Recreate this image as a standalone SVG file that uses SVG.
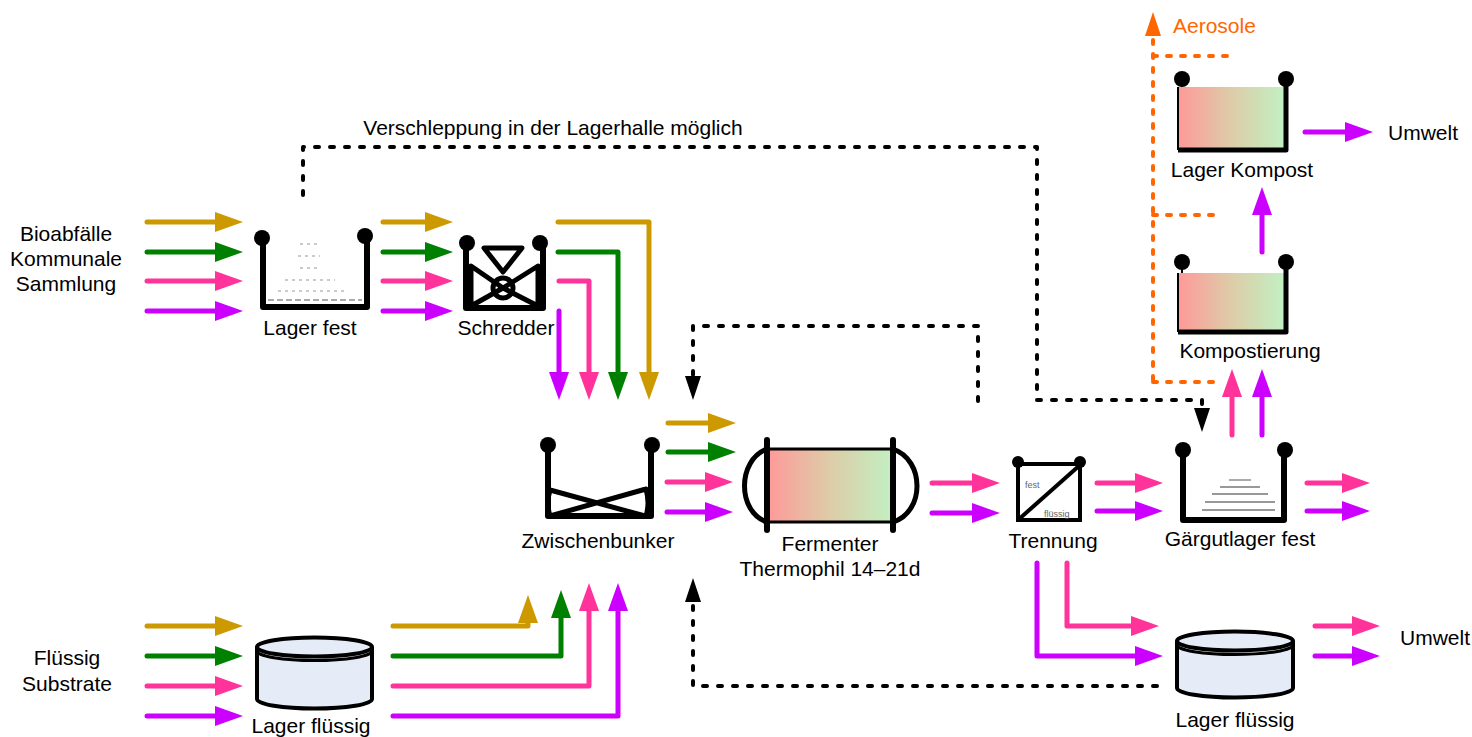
<svg xmlns="http://www.w3.org/2000/svg" width="1472" height="737" viewBox="0 0 1472 737">
<style>
text{font-family:"Liberation Sans",Arial,sans-serif;font-size:21px;fill:#000}
.c{text-anchor:middle}
.flow{fill:none;stroke-width:5;stroke-linecap:round;stroke-linejoin:round}
.gold{stroke:#CC9900}.green{stroke:#008000}.pink{stroke:#FF3399}.purple{stroke:#CC00FF}
.dash{fill:none;stroke:#000;stroke-width:4;stroke-dasharray:4 11;stroke-linecap:round;stroke-linejoin:round}
.odash{fill:none;stroke:#FF6600;stroke-width:4;stroke-dasharray:4 10;stroke-linecap:round}
.tank{fill:none;stroke:#000;stroke-width:6;stroke-linejoin:round;stroke-linecap:round}
.ball{fill:#000}
.heap{stroke:#bbb;stroke-width:1.5;stroke-dasharray:3 4}
.heap2{stroke:#999;stroke-width:2}
.cyl{fill:#E6ECF7;stroke:#000;stroke-width:4}
</style>
<defs>
<marker id="mGold" markerUnits="userSpaceOnUse" markerWidth="28" markerHeight="20" refX="0" refY="10" orient="auto"><path d="M0,0L28,10L0,20z" fill="#CC9900"/></marker>
<marker id="mGreen" markerUnits="userSpaceOnUse" markerWidth="28" markerHeight="20" refX="0" refY="10" orient="auto"><path d="M0,0L28,10L0,20z" fill="#008000"/></marker>
<marker id="mPink" markerUnits="userSpaceOnUse" markerWidth="28" markerHeight="20" refX="0" refY="10" orient="auto"><path d="M0,0L28,10L0,20z" fill="#FF3399"/></marker>
<marker id="mPurple" markerUnits="userSpaceOnUse" markerWidth="28" markerHeight="20" refX="0" refY="10" orient="auto"><path d="M0,0L28,10L0,20z" fill="#CC00FF"/></marker>
<marker id="mBlack" markerUnits="userSpaceOnUse" markerWidth="24" markerHeight="16" refX="0" refY="8" orient="auto"><path d="M0,0L24,8L0,16z" fill="#000"/></marker>
<marker id="mOrange" markerUnits="userSpaceOnUse" markerWidth="24" markerHeight="16" refX="0" refY="8" orient="auto"><path d="M0,0L24,8L0,16z" fill="#FF6600"/></marker>
<linearGradient id="grad" x1="0" y1="0" x2="1" y2="0">
<stop offset="0" stop-color="#FF9999"/><stop offset="0.5" stop-color="#DDCCA8"/><stop offset="1" stop-color="#C2F0C2"/>
</linearGradient>
</defs>
<rect width="1472" height="737" fill="#fff"/>

<g id="connectors">
<!-- Bioabfaelle inputs -->
<path class="flow gold" d="M147,222H215" marker-end="url(#mGold)"/>
<path class="flow green" d="M147,252H215" marker-end="url(#mGreen)"/>
<path class="flow pink" d="M147,281H215" marker-end="url(#mPink)"/>
<path class="flow purple" d="M147,311H215" marker-end="url(#mPurple)"/>
<!-- Lager fest -> Schredder -->
<path class="flow gold" d="M383,222H425" marker-end="url(#mGold)"/>
<path class="flow green" d="M383,252H425" marker-end="url(#mGreen)"/>
<path class="flow pink" d="M383,281H425" marker-end="url(#mPink)"/>
<path class="flow purple" d="M383,311H425" marker-end="url(#mPurple)"/>
<!-- Schredder -> Zwischenbunker -->
<path class="flow gold" d="M558,222H649V372" marker-end="url(#mGold)"/>
<path class="flow green" d="M558,252H618V372" marker-end="url(#mGreen)"/>
<path class="flow pink" d="M559,281H589V372" marker-end="url(#mPink)"/>
<path class="flow purple" d="M559,311V372" marker-end="url(#mPurple)"/>
<!-- Zwischenbunker -> Fermenter -->
<path class="flow gold" d="M668,423H708" marker-end="url(#mGold)"/>
<path class="flow green" d="M668,452H708" marker-end="url(#mGreen)"/>
<path class="flow pink" d="M667,482H705" marker-end="url(#mPink)"/>
<path class="flow purple" d="M667,512H705" marker-end="url(#mPurple)"/>
<!-- Fermenter -> Trennung -->
<path class="flow pink" d="M932,483H972" marker-end="url(#mPink)"/>
<path class="flow purple" d="M932,513H972" marker-end="url(#mPurple)"/>
<!-- Trennung -> Gaergutlager -->
<path class="flow pink" d="M1097,483H1135" marker-end="url(#mPink)"/>
<path class="flow purple" d="M1097,511H1135" marker-end="url(#mPurple)"/>
<!-- Gaergutlager out -->
<path class="flow pink" d="M1307,483H1342" marker-end="url(#mPink)"/>
<path class="flow purple" d="M1307,511H1342" marker-end="url(#mPurple)"/>
<!-- Gaergutlager -> Kompostierung -->
<path class="flow pink" d="M1232,435V397" marker-end="url(#mPink)"/>
<path class="flow purple" d="M1262,435V397" marker-end="url(#mPurple)"/>
<!-- Kompostierung -> Lager Kompost -->
<path class="flow purple" d="M1262,252V215" marker-end="url(#mPurple)"/>
<!-- Lager Kompost -> Umwelt -->
<path class="flow purple" d="M1305,132H1345" marker-end="url(#mPurple)"/>
<!-- Fluessig inputs -->
<path class="flow gold" d="M147,626H215" marker-end="url(#mGold)"/>
<path class="flow green" d="M147,656H215" marker-end="url(#mGreen)"/>
<path class="flow pink" d="M147,686H215" marker-end="url(#mPink)"/>
<path class="flow purple" d="M147,716H215" marker-end="url(#mPurple)"/>
<!-- Lager fluessig -> Zwischenbunker -->
<path class="flow gold" d="M393,626H528V623" marker-end="url(#mGold)"/>
<path class="flow green" d="M393,656H561V618" marker-end="url(#mGreen)"/>
<path class="flow pink" d="M393,686H589V611" marker-end="url(#mPink)"/>
<path class="flow purple" d="M393,716H618V611" marker-end="url(#mPurple)"/>
<!-- Trennung -> Lager fluessig -->
<path class="flow pink" d="M1067,563V626H1131" marker-end="url(#mPink)"/>
<path class="flow purple" d="M1037,563V656H1135" marker-end="url(#mPurple)"/>
<!-- Lager fluessig -> Umwelt -->
<path class="flow pink" d="M1315,626H1352" marker-end="url(#mPink)"/>
<path class="flow purple" d="M1315,656H1352" marker-end="url(#mPurple)"/>
<!-- dashed black -->
<path class="dash" d="M303,195V147H1037V400H1202V408" marker-end="url(#mBlack)"/>
<path class="dash" d="M978,401V326H693V376" marker-end="url(#mBlack)"/>
<path class="dash" d="M1157,686H693V602" marker-end="url(#mBlack)"/>
<!-- orange dashed -->
<path class="odash" d="M1153,380V36" marker-end="url(#mOrange)"/>
<path class="odash" d="M1153,56H1237"/>
<path class="odash" d="M1153,215H1215"/>
<path class="odash" d="M1153,382H1215"/>
</g>

<g id="labels">
<text class="c" x="66" y="241">Bioabfälle</text>
<text class="c" x="66" y="266">Kommunale</text>
<text class="c" x="66" y="291">Sammlung</text>
<text class="c" x="67" y="665">Flüssig</text>
<text class="c" x="67" y="691">Substrate</text>
<text class="c" x="553" y="135">Verschleppung in der Lagerhalle möglich</text>
<text x="1173" y="33" style="fill:#FF6600">Aerosole</text>
<text x="1388" y="140">Umwelt</text>
<text x="1400" y="645">Umwelt</text>
</g>

<g id="lager-fest">
<line class="heap" x1="300" y1="244" x2="320" y2="244"/>
<line class="heap" x1="298" y1="256" x2="320" y2="256"/>
<line class="heap" x1="300" y1="268" x2="320" y2="268"/>
<line class="heap" x1="285" y1="280" x2="335" y2="280"/>
<line class="heap" x1="278" y1="291" x2="345" y2="291"/>
<line class="heap2" x1="268" y1="300" x2="362" y2="300" style="stroke-dasharray:6 3;stroke:#aaa"/>
<path class="tank" d="M263,238V307H367V236"/>
<circle class="ball" cx="262" cy="238" r="8"/>
<circle class="ball" cx="365" cy="236" r="8"/>
<text class="c" x="310" y="335">Lager fest</text>
</g>

<g id="schredder">
<path class="tank" d="M466,243V308H543V243"/>
<path d="M484,248H522L503,272Z" fill="none" stroke="#000" stroke-width="5" stroke-linejoin="round"/>
<path d="M471,266L503,288L471,306Z M538,266L503,288L538,306Z" fill="none" stroke="#000" stroke-width="5" stroke-linejoin="round"/>
<circle cx="503" cy="288" r="10" fill="none" stroke="#000" stroke-width="5"/>
<circle class="ball" cx="467" cy="243" r="8"/>
<circle class="ball" cx="540" cy="243" r="8"/>
<text class="c" x="506" y="335">Schredder</text>
</g>

<g id="zwischenbunker">
<path class="tank" d="M548,445V516H651V445"/>
<path d="M550,490L645,516M646,489L550,516M550,490Q546,503 550,516M646,489Q650,503 646,516" fill="none" stroke="#000" stroke-width="5" stroke-linecap="round"/>
<circle class="ball" cx="548" cy="445" r="8"/>
<circle class="ball" cx="652" cy="445" r="8"/>
<text class="c" x="598" y="548">Zwischenbunker</text>
</g>

<g id="fermenter">
<rect x="767" y="449" width="126" height="73" fill="url(#grad)" stroke="#000" stroke-width="3"/>
<path d="M767,449C737,460 737,512 767,522M893,449C925,460 925,512 893,522" fill="none" stroke="#000" stroke-width="5"/>
<path d="M767,440V530M893,440V530" stroke="#000" stroke-width="6" stroke-linecap="round"/>
<text class="c" x="830" y="551">Fermenter</text>
<text class="c" x="830" y="576">Thermophil 14–21d</text>
</g>

<g id="trennung">
<rect x="1018" y="464" width="62" height="56" fill="#fff" stroke="#000" stroke-width="4"/>
<path d="M1018,520L1080,465" stroke="#000" stroke-width="4"/>
<circle class="ball" cx="1018" cy="462" r="6"/>
<circle class="ball" cx="1080" cy="462" r="6"/>
<text x="1025" y="488" style="font-size:9px;fill:#666">fest</text>
<text x="1044" y="517" style="font-size:9px;fill:#666">flüssig</text>
<text class="c" x="1053" y="548">Trennung</text>
</g>

<g id="gaergutlager-fest">
<line class="heap2" x1="1229" y1="480" x2="1251" y2="480" style="stroke:#aaa"/>
<line class="heap2" x1="1220" y1="487" x2="1260" y2="487"/>
<line class="heap2" x1="1212" y1="494" x2="1268" y2="494"/>
<line class="heap2" x1="1205" y1="502" x2="1275" y2="502"/>
<line class="heap2" x1="1202" y1="510" x2="1275" y2="510"/>
<path class="tank" d="M1183,450V520H1284V450"/>
<circle class="ball" cx="1183" cy="450" r="8"/>
<circle class="ball" cx="1285" cy="450" r="8"/>
<text class="c" x="1240" y="546">Gärgutlager fest</text>
</g>

<g id="kompostierung">
<rect x="1178" y="273" width="106" height="59" fill="url(#grad)"/>
<path d="M1182,262V273M1178,273V332" stroke="#000" stroke-width="2" fill="none"/>
<path d="M1286,262V332H1178" stroke="#000" stroke-width="5" fill="none" stroke-linejoin="round"/>
<circle class="ball" cx="1182" cy="262" r="8"/>
<circle class="ball" cx="1286" cy="262" r="8"/>
<text class="c" x="1250" y="358">Kompostierung</text>
</g>

<g id="lager-kompost">
<rect x="1178" y="87" width="106" height="63" fill="url(#grad)"/>
<path d="M1182,79V87M1178,87V150" stroke="#000" stroke-width="2" fill="none"/>
<path d="M1286,79V150H1178" stroke="#000" stroke-width="5" fill="none" stroke-linejoin="round"/>
<circle class="ball" cx="1182" cy="79" r="8"/>
<circle class="ball" cx="1286" cy="79" r="8"/>
<text class="c" x="1242" y="177">Lager Kompost</text>
</g>

<g id="lager-fluessig-links">
<path class="cyl" d="M257,647V699A57.5,9.5 0 0 0 372,699V647"/>
<ellipse class="cyl" cx="314.5" cy="647" rx="57.5" ry="9.5"/>
<path d="M257,651A57.5,9.5 0 0 0 372,651" fill="none" stroke="#000" stroke-width="3"/>
<text class="c" x="311" y="733">Lager flüssig</text>
</g>

<g id="lager-fluessig-rechts">
<path class="cyl" d="M1177,641V688A58,9.5 0 0 0 1293,688V641"/>
<ellipse class="cyl" cx="1235" cy="641" rx="58" ry="9.5"/>
<path d="M1177,645A58,9.5 0 0 0 1293,645" fill="none" stroke="#000" stroke-width="3"/>
<text class="c" x="1235" y="727">Lager flüssig</text>
</g>
</svg>
